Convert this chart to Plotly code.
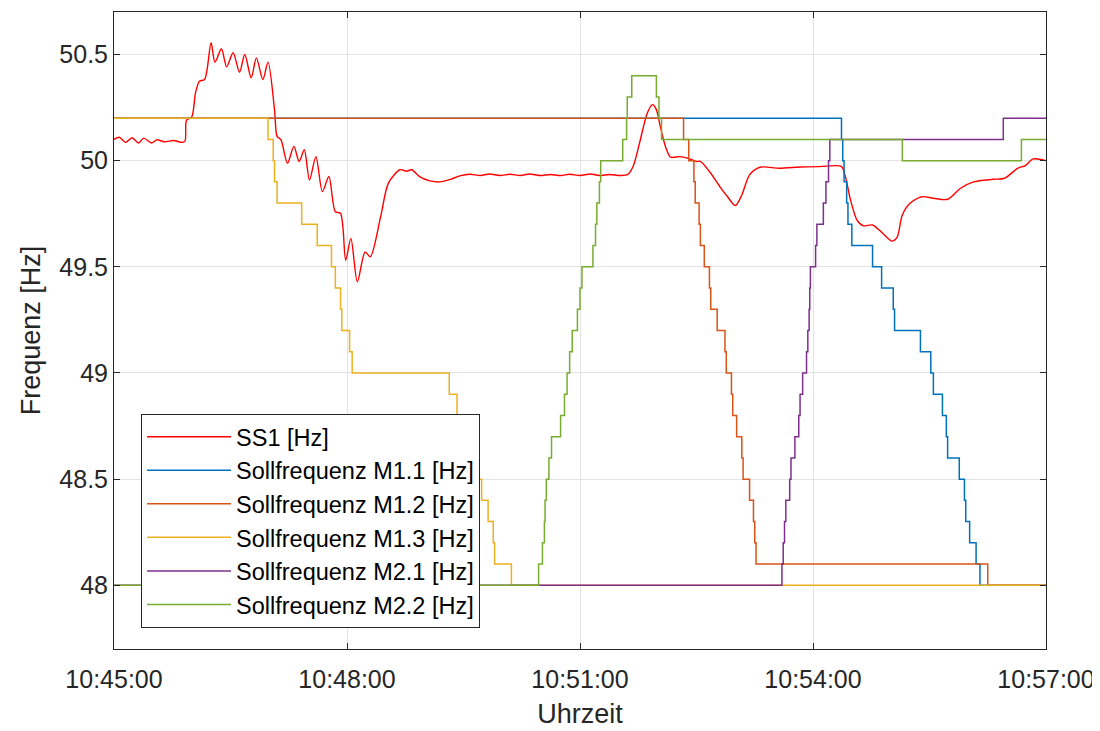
import pandas as pd
import plotly.graph_objects as go

# time axis: seconds after 10:45:00
base = pd.Timestamp("2021-06-15 10:45:00")

# SS1 measured frequency
ss1_t = [0, 4, 9, 14, 19, 23, 29, 33, 39, 46, 53, 55, 56, 60, 63, 66, 70, 75, 78, 83,
         87, 92, 97, 101, 106, 110, 115, 119, 124, 126, 129, 134, 139, 143, 147, 151, 156, 161, 166, 171,
         175, 179, 183, 188, 194, 198, 206, 212, 221, 226, 230, 236, 244, 252, 260, 267, 275, 283, 290, 298,
         306, 314, 321, 329, 337, 345, 352, 360, 368, 375, 383, 391, 397, 401, 406, 412, 416, 419, 422, 426,
         430, 437, 443, 450, 453, 460, 468, 474, 480, 485, 491, 499, 514, 530, 545, 562, 565, 569, 574, 579,
         586, 594, 601, 605, 609, 615, 624, 633, 644, 654, 664, 679, 688, 698, 704, 710, 720]
ss1_hz = [50.10, 50.11, 50.086, 50.108, 50.083, 50.106, 50.083, 50.098, 50.089, 50.095, 50.086, 50.095, 50.19, 50.205, 50.32, 50.374, 50.382, 50.555, 50.464, 50.527,
          50.442, 50.508, 50.416, 50.50, 50.39, 50.484, 50.382, 50.464, 50.24, 50.114, 50.098, 49.988, 50.067, 49.996, 50.051, 49.909, 50.019, 49.854, 49.925, 49.759,
          49.752, 49.531, 49.634, 49.429, 49.57, 49.547, 49.736, 49.894, 49.957, 49.95, 49.957, 49.925, 49.905, 49.90, 49.912, 49.928, 49.936, 49.93, 49.937, 49.93,
          49.936, 49.93, 49.937, 49.93, 49.935, 49.93, 49.936, 49.93, 49.937, 49.93, 49.935, 49.93, 49.935, 49.972, 50.083, 50.224, 50.264, 50.24, 50.161, 50.067,
          50.016, 50.019, 50.012, 49.996, 49.996, 49.949, 49.878, 49.83, 49.788, 49.838, 49.933, 49.969, 49.964, 49.97, 49.972, 49.972, 49.925, 49.815, 49.72, 49.693,
          49.697, 49.657, 49.621, 49.64, 49.744, 49.799, 49.83, 49.823, 49.818, 49.87, 49.90, 49.912, 49.917, 49.964, 49.977, 50.008, 50.0]

# set-point frequencies (step changes)
m11_t = [0, 562, 563, 564, 566, 567, 570, 586, 593, 602, 603, 623, 631, 633, 640, 643, 644, 653, 657, 658, 661, 666, 669, 720]
m11_hz = [50.2, 50.1, 50.0, 49.9, 49.8, 49.7, 49.6, 49.5, 49.4, 49.3, 49.2, 49.1, 49.0, 48.9, 48.8, 48.7, 48.6, 48.5, 48.4, 48.3, 48.2, 48.1, 48.0, 48.0]

m12_t = [0, 440, 444, 448, 449, 452, 453, 456, 460, 461, 466, 472, 473, 477, 478, 481, 485, 486, 491, 494, 495, 496, 675, 720]
m12_hz = [50.2, 50.1, 50.0, 49.9, 49.8, 49.7, 49.6, 49.5, 49.4, 49.3, 49.2, 49.1, 49.0, 48.9, 48.8, 48.7, 48.6, 48.5, 48.4, 48.3, 48.2, 48.1, 48.0, 48.0]

m13_t = [0, 119, 123, 124, 126, 145, 157, 168, 171, 175, 176, 182, 184, 259, 265, 270, 274, 279, 284, 289, 293, 294, 307, 720]
m13_hz = [50.2, 50.1, 50.0, 49.9, 49.8, 49.7, 49.6, 49.5, 49.4, 49.3, 49.2, 49.1, 49.0, 48.9, 48.8, 48.7, 48.6, 48.5, 48.4, 48.3, 48.2, 48.1, 48.0, 48.0]

m21_t = [0, 516, 517, 518, 519, 522, 523, 526, 529, 530, 532, 535, 536, 537, 537.5, 538, 542, 543, 548, 550, 552, 553, 687, 720]
m21_hz = [48.0, 48.1, 48.2, 48.3, 48.4, 48.5, 48.6, 48.7, 48.8, 48.9, 49.0, 49.1, 49.2, 49.3, 49.4, 49.5, 49.6, 49.7, 49.8, 49.9, 50.0, 50.1, 50.2, 50.2]

m22_t = [0, 328, 331, 332.5, 333, 334, 336, 338, 345, 348, 350, 352, 354, 358, 360, 361.5, 370, 372, 373, 375, 376, 393, 396, 396.5,
         400, 419, 421, 423, 609, 701, 720]
m22_hz = [48.0, 48.1, 48.2, 48.3, 48.4, 48.5, 48.6, 48.7, 48.8, 48.9, 49.0, 49.1, 49.2, 49.3, 49.4, 49.5, 49.6, 49.7, 49.8, 49.9, 50.0, 50.1, 50.2, 50.3,
          50.4, 50.3, 50.2, 50.1, 50.0, 50.1, 50.1]

names = ["SS1 [Hz]", "Sollfrequenz M1.1 [Hz]", "Sollfrequenz M1.2 [Hz]", "Sollfrequenz M1.3 [Hz]",
         "Sollfrequenz M2.1 [Hz]", "Sollfrequenz M2.2 [Hz]"]
colors = ["#FF0000", "#0072BD", "#D95319", "#EDB120", "#7E2F8E", "#77AC30"]
series = [(ss1_t, ss1_hz), (m11_t, m11_hz), (m12_t, m12_hz), (m13_t, m13_hz), (m21_t, m21_hz), (m22_t, m22_hz)]


def to_time(secs):
    return base + pd.to_timedelta(secs, unit="s")


fig = go.Figure()
for i, (t, hz) in enumerate(series):
    if i == 0:
        line = dict(color=colors[i], width=1.4, shape="spline", smoothing=0.8)
    else:
        line = dict(color=colors[i], width=1.5, shape="hv")
    fig.add_trace(go.Scatter(x=to_time(t), y=hz, name=names[i], mode="lines", line=line))

font_family = "Liberation Sans, Arial, sans-serif"
axis_style = dict(
    showline=True, linecolor="#262626", linewidth=1, mirror="ticks",
    ticks="inside", ticklen=6, tickcolor="#262626",
    showgrid=True, gridcolor="#e3e3e3", gridwidth=1, zeroline=False,
    tickfont=dict(size=25, color="#262626", family=font_family),
    automargin=False,
)

# the page body adds 8px, so the figure is a little smaller than the window
fig.update_layout(
    width=1092, height=723,
    paper_bgcolor="white", plot_bgcolor="white",
    margin=dict(l=106, r=54, t=4, b=82),
    font=dict(family=font_family, color="#262626"),
    xaxis=dict(
        axis_style,
        type="date",
        range=[to_time(0), to_time(720)],
        tick0=to_time(0), dtick=180000, tickformat="%H:%M:%S",
        ticklabelstandoff=8,
        title=dict(text="Uhrzeit", font=dict(size=27, color="#262626"), standoff=12),
    ),
    yaxis=dict(
        axis_style,
        range=[47.7, 50.7],
        tickvals=[48, 48.5, 49, 49.5, 50, 50.5],
        title=dict(text="Frequenz [Hz]", font=dict(size=27, color="#262626"), standoff=10),
    ),
    legend=dict(
        x=0.029, y=0.369, xanchor="left", yanchor="top",
        bgcolor="white", bordercolor="#262626", borderwidth=1,
        font=dict(size=23.5, color="#000000", family=font_family),
        itemwidth=84, tracegroupgap=0,
    ),
    showlegend=True,
)

fig.write_html("out.html")
